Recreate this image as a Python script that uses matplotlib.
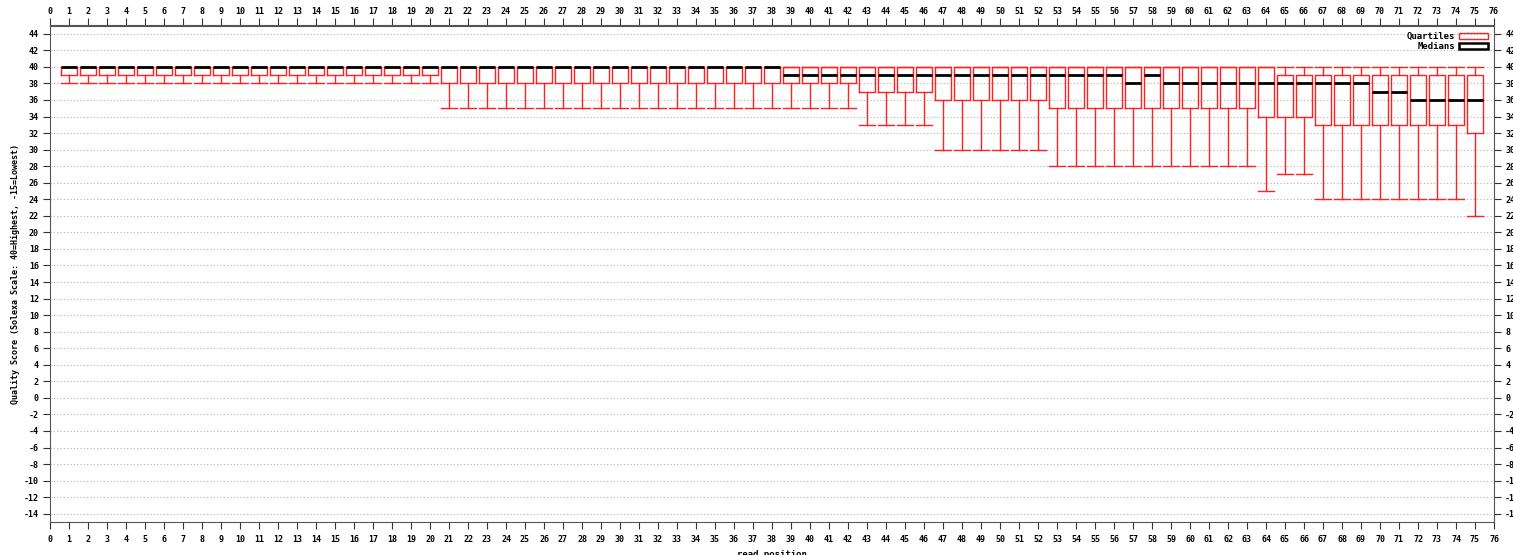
import matplotlib
matplotlib.use("Agg")
import matplotlib.pyplot as plt
from matplotlib.patches import Patch

positions = list(range(1, 76))
q1 = [39]*20 + [38]*22 + [37]*4 + [36]*6 + [35]*11 + [34]*3 + [33]*8 + [32]
q3 = [40]*64 + [39]*11
medians = ([40]*38 + [39]*18 + [38] + [39] + [38]*11 + [37]*2 + [36]*4)
whis_lo = [38]*20 + [35]*22 + [33]*4 + [30]*6 + [28]*11 + [25] + [27]*2 + [24]*8 + [22]
whis_hi = [40]*75

x_ticks = list(range(0, 77))
y_ticks = list(range(-14, 45, 2))

plt.rcParams['font.family'] = ['DejaVu Sans Mono']
plt.rcParams['font.weight'] = 'bold'

fig = plt.figure(figsize=(15.13, 5.55), dpi=100)
ax = fig.add_axes([50/1513, 1-522/555, (1494-50)/1513, (522-25.5)/555])

stats = []
for p, a, b, m, lo, hi in zip(positions, q1, q3, medians, whis_lo, whis_hi):
    stats.append(dict(med=m, q1=a, q3=b, whislo=lo, whishi=hi, fliers=[]))

ax.bxp(stats, positions=positions, widths=0.85, capwidths=0.85, showfliers=False,
       boxprops=dict(color='#ff2020', lw=1.0),
       whiskerprops=dict(color='#ff2020', lw=1.0),
       capprops=dict(color='#ff2020', lw=1.0),
       medianprops=dict(color='#000000', lw=2.0),
       manage_ticks=False)

ax.set_xlim(0, 76)
ax.set_ylim(-15, 45)
ax.set_xticks(x_ticks)
ax.set_xticklabels([str(t) for t in x_ticks])
ax.set_yticks(y_ticks)
ax.set_yticklabels([str(t) for t in y_ticks])
ax.yaxis.grid(True, linestyle=(0, (1, 2)), color='#b0b0b0', lw=0.8)
ax.set_axisbelow(True)

ax.tick_params(axis='y', which='both', direction='out', length=5, width=0.8,
               labelsize=6, left=True, right=True, labelleft=True, labelright=True,
               pad=3, color='#333333')
ax.tick_params(axis='x', which='both', direction='out', length=5, width=0.8,
               labelsize=6, top=False, bottom=True, labeltop=False, labelbottom=True,
               pad=4, color='#333333')

top = ax.secondary_xaxis('top')
top.set_xticks(x_ticks)
top.set_xticklabels([str(t) for t in x_ticks])
top.tick_params(direction='out', length=5, width=0.8, labelsize=6, pad=2,
                color='#333333')
top.spines['top'].set_color('#555555')
top.spines['top'].set_linewidth(0.8)

for s in ax.spines.values():
    s.set_color('#555555')
    s.set_linewidth(0.8)

ax.set_xlabel('read position', fontsize=6.5, fontweight='bold', labelpad=5)
ax.set_ylabel('Quality Score (Solexa Scale: 40=Highest, -15=Lowest)', fontsize=6,
              fontweight='bold', labelpad=3)

handles = [Patch(facecolor='none', edgecolor='#ff2020', lw=1.0),
           Patch(facecolor='none', edgecolor='#000000', lw=1.8)]
ax.legend(handles, ['Quartiles', 'Medians'], loc='upper right', frameon=False,
          markerfirst=False, fontsize=6.5, handlelength=3.2, handleheight=0.6,
          labelspacing=0.15, handletextpad=0.4, borderaxespad=0.3)

fig.savefig('out.png', dpi=100)
